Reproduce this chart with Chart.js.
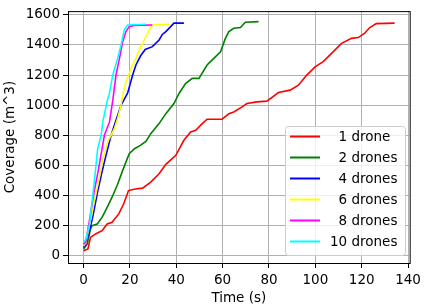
<!DOCTYPE html>
<html>
<head>
<meta charset="utf-8">
<script src="https://cdn.jsdelivr.net/npm/chart.js@4"></script>
<style>
  body { margin: 0; background: #fff; }
  canvas { display: block; }
</style>
</head>
<body>
<canvas id="coverageChart" width="425" height="307"></canvas>
<script>
// --------------------- Data ---------------------
const labels = ['  1 drone', '  2 drones', '  4 drones', '  6 drones', '  8 drones', '10 drones'];
const colors = ['#ff0000', '#008000', '#0000ff', '#ffff00', '#ff00ff', '#00ffff'];

const t1 = [0, 1.9, 3, 5.2, 8, 10.2, 12.3, 15.2, 17.3, 19.4, 22.3, 25.5, 29, 32.6, 35.5, 39.8, 43.3, 46.2, 48.4, 51.2, 53.3, 59.8, 62.7, 64.8, 68.4, 70.5, 74.8, 79.1, 84.1, 89.1, 92.7, 96.3, 99.9, 103.4, 107, 111.3, 115.6, 118.5, 121.3, 123.5, 126.3, 134.2];
const c1 = [33, 45, 122, 145, 167, 211, 222, 278, 344, 433, 444, 449, 489, 545, 607, 667, 767, 822, 833, 878, 907, 907, 944, 955, 989, 1011, 1022, 1027, 1084, 1100, 1133, 1200, 1255, 1289, 1344, 1411, 1444, 1449, 1478, 1516, 1542, 1545];

const t2 = [0, 1.6, 3, 3.7, 5.9, 8, 10.2, 12.3, 14.5, 16.9, 19.7, 22, 24.5, 26.9, 29, 32.6, 35.5, 39, 41.2, 44, 46.9, 49.8, 53.3, 56.2, 59.1, 61.2, 62.7, 64.8, 67.7, 69.8, 75.5];
const c2 = [45, 78, 178, 200, 211, 255, 322, 389, 467, 567, 678, 711, 733, 760, 811, 878, 944, 1011, 1078, 1144, 1178, 1178, 1267, 1311, 1355, 1444, 1489, 1511, 1516, 1551, 1555];

const t4 = [0, 1, 2.5, 4, 6, 8, 9.7, 11.9, 14, 16.2, 19, 21.2, 22.6, 24.7, 26.6, 29.7, 32.6, 34, 35.5, 37.6, 39, 43.3];
const c4 = [55, 75, 160, 260, 420, 560, 667, 800, 900, 1000, 1080, 1200, 1267, 1330, 1370, 1389, 1433, 1470, 1489, 1522, 1545, 1545];

const t6 = [0, 1, 2.5, 4.5, 6.8, 8.5, 10.5, 13.3, 14.7, 16.2, 16.9, 18.3, 20.5, 22.6, 24.7, 26.2, 28.3, 29.7, 36.9];
const c6 = [65, 85, 200, 350, 520, 650, 760, 844, 911, 1000, 1067, 1155, 1244, 1311, 1389, 1433, 1500, 1533, 1538];

const t8 = [0, 1, 2.5, 4.5, 6.3, 9, 11.2, 12.6, 14, 15.5, 16.9, 18.3, 19.7, 21.9, 29.7];
const c8 = [75, 95, 230, 420, 560, 800, 889, 1030, 1200, 1311, 1422, 1489, 1522, 1530, 1533];

const t10 = [0, 1, 2.6, 4.7, 6.1, 7.6, 8.3, 10.4, 11.2, 12.6, 14.7, 16.2, 17.6, 19, 26.9];
const c10 = [90, 110, 211, 500, 711, 800, 889, 1040, 1080, 1200, 1311, 1400, 1500, 1533, 1538];

const xTicks = [0, 20, 40, 60, 80, 100, 120, 140];
const yTicks = [0, 200, 400, 600, 800, 1000, 1200, 1400, 1600];

const times = [t1, t2, t4, t6, t8, t10];
const coverage = [c1, c2, c4, c6, c8, c10];

// --------------------- Helpers ---------------------
const FONT = 'DejaVu Sans';
const fontSize = 13.5;

// legend drawn inside the plot, like matplotlib's loc="lower right"
const legendBox = {
  id: 'legendBox',
  afterDraw(chart) {
    const ctx = chart.ctx;
    const a = chart.chartArea;
    ctx.save();
    // top and right spines
    ctx.strokeStyle = '#000';
    ctx.lineWidth = 1;
    ctx.strokeRect(a.left + 0.5, a.top + 0.5, a.right - a.left, a.bottom - a.top);

    const x = 285, y = 126, w = 120, h = 129, r = 3;
    ctx.beginPath();
    ctx.roundRect(x + 0.5, y + 0.5, w, h, r);
    ctx.fillStyle = 'rgba(255,255,255,0.8)';
    ctx.fill();
    ctx.strokeStyle = '#cccccc';
    ctx.stroke();

    ctx.font = fontSize + 'px "' + FONT + '"';
    ctx.textBaseline = 'middle';
    ctx.fillStyle = '#000';
    labels.forEach((lab, i) => {
      const ry = 136.5 + i * 21;
      ctx.strokeStyle = colors[i];
      ctx.lineWidth = 2;
      ctx.beginPath();
      ctx.moveTo(290, ry);
      ctx.lineTo(320, ry);
      ctx.stroke();
      ctx.fillText(lab, 330, ry + 1);
    });
    ctx.restore();
  }
};

// --------------------- Chart ---------------------
const ctx = document.getElementById('coverageChart').getContext('2d');

new Chart(ctx, {
  type: 'line',
  data: {
    datasets: labels.map((lab, i) => ({
      label: lab.trim(),
      data: times[i].map((t, j) => ({ x: t, y: coverage[i][j] })),
      borderColor: colors[i],
      borderWidth: 1.6,
      fill: false,
      pointRadius: 0,
      tension: 0,
      order: labels.length - i
    }))
  },
  options: {
    responsive: false,
    animation: false,
    layout: { padding: { top: 11, right: 13, left: 0, bottom: 0 } },
    plugins: { legend: { display: false }, tooltip: { enabled: false } },
    scales: {
      x: {
        type: 'linear',
        min: -6.7,
        max: 140.7,
        afterBuildTicks: s => { s.ticks = xTicks.map(v => ({ value: v })); },
        afterFit: s => { s.height = 44; },
        grid: { color: '#b0b0b0', lineWidth: 1, tickColor: '#000', tickLength: 5 },
        border: { color: '#000', width: 1 },
        ticks: { color: '#000', padding: 4, maxRotation: 0, callback: v => String(v), font: { family: FONT, size: fontSize } },
        title: { display: true, text: 'Time (s)', color: '#000', padding: { top: 0, bottom: 0 }, font: { family: FONT, size: fontSize } }
      },
      y: {
        type: 'linear',
        min: -48,
        max: 1625,
        afterBuildTicks: s => { s.ticks = yTicks.map(v => ({ value: v })); },
        afterFit: s => { s.width = 68; },
        grid: { color: '#b0b0b0', lineWidth: 1, tickColor: '#000', tickLength: 5 },
        border: { color: '#000', width: 1 },
        ticks: { color: '#000', padding: 3, callback: v => String(v), font: { family: FONT, size: fontSize } },
        title: { display: true, text: 'Coverage (m^3)', color: '#000', padding: { top: 2, bottom: 0 }, font: { family: FONT, size: fontSize } }
      }
    }
  },
  plugins: [legendBox]
});
</script>
</body>
</html>
